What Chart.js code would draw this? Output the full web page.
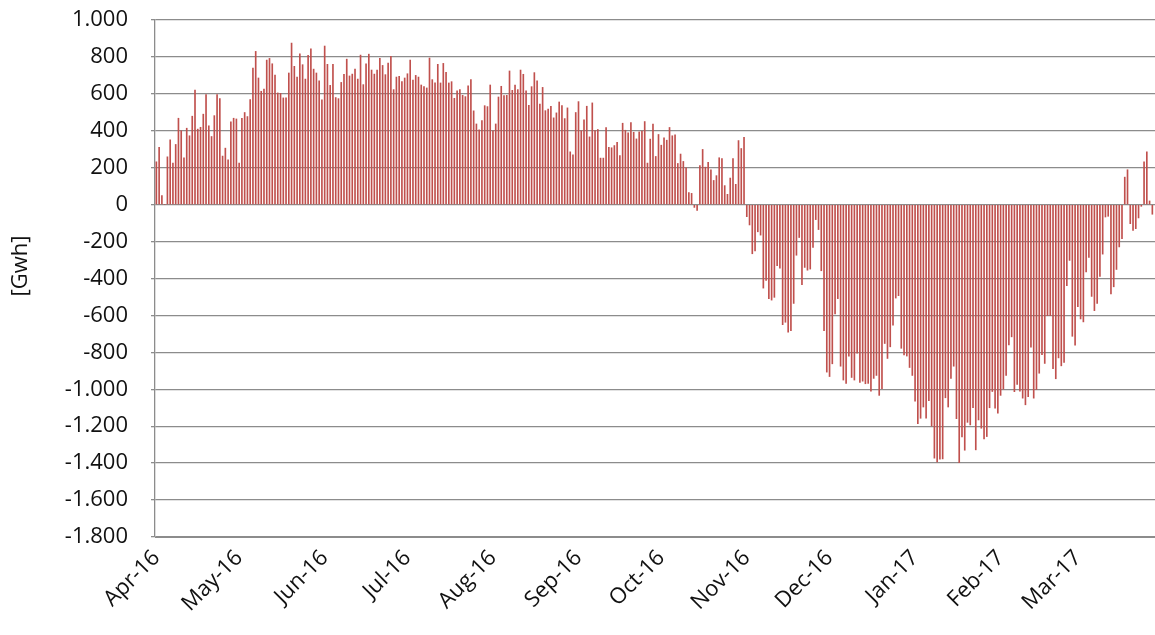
<!DOCTYPE html>
<html>
<head>
<meta charset="utf-8">
<script src="https://cdn.jsdelivr.net/npm/chart.js@4.4.1/dist/chart.umd.min.js"></script>
<style>
  html, body { margin: 0; padding: 0; background: #fff; overflow: hidden; }
  #wrap { width: 1165px; height: 635px; }
</style>
</head>
<body>
<div id="wrap"><canvas id="chart" width="1165" height="635"></canvas></div>
<script>
// daily balance in GWh, one array per month (Apr-16 .. Mar-17)
const apr16 = [232, 311, 49, 0, 259, 351, 225, 326, 468, 400, 254, 414, 373, 479, 621, 409, 419, 490, 596, 427, 369, 482, 596, 574, 263, 306, 243, 448, 468, 464];
const may16 = [225, 468, 499, 477, 569, 740, 830, 686, 614, 626, 783, 792, 763, 702, 605, 603, 578, 578, 713, 875, 749, 691, 817, 758, 680, 808, 844, 734, 713, 671, 567];
const jun16 = [859, 760, 646, 760, 580, 574, 662, 706, 788, 697, 707, 734, 680, 810, 650, 763, 815, 729, 707, 729, 792, 754, 704, 767, 803, 623, 691, 695, 666, 686];
const jul16 = [709, 783, 675, 700, 691, 648, 640, 632, 794, 677, 660, 760, 659, 765, 716, 659, 666, 576, 616, 623, 592, 585, 643, 677, 508, 437, 405, 455, 536, 531, 648];
const aug16 = [400, 437, 583, 641, 590, 592, 724, 619, 648, 623, 729, 706, 616, 538, 639, 715, 670, 544, 635, 509, 517, 533, 470, 497, 556, 536, 466, 524, 286, 270, 499];
const sep16 = [558, 400, 459, 533, 367, 551, 401, 407, 252, 252, 418, 311, 308, 320, 337, 266, 441, 403, 389, 445, 392, 356, 394, 398, 450, 225, 355, 436, 261, 380];
const oct16 = [322, 362, 349, 418, 373, 378, 223, 274, 234, 200, 65, 61, -15, -31, 211, 299, 203, 229, 189, 131, 157, 254, 250, 103, 56, 144, 250, 110, 347, 304, 364];
const nov16 = [-65, -110, -266, -250, -147, -165, -452, -410, -509, -517, -502, -331, -344, -650, -637, -691, -682, -535, -274, -178, -434, -340, -355, -349, -232, -81, -135, -358, -682, -907];
const dec16 = [-931, -862, -592, -509, -875, -950, -968, -821, -936, -950, -805, -963, -956, -970, -968, -1010, -941, -925, -1033, -997, -752, -833, -770, -653, -506, -493, -778, -814, -820, -882, -925];
const jan17 = [-1064, -1186, -1157, -1096, -1156, -1062, -1199, -1373, -1393, -1379, -1377, -1046, -1096, -941, -875, -1159, -1397, -1258, -1330, -1179, -1193, -1100, -1328, -1166, -1211, -1269, -1256, -1100, -1012, -1102, -1130];
const feb17 = [-1033, -999, -925, -760, -716, -1013, -974, -1010, -1048, -1084, -1040, -772, -1048, -1001, -913, -812, -860, -601, -601, -889, -943, -830, -873, -855, -439, -302, -713, -761];
const mar17 = [-553, -619, -635, -364, -286, -497, -574, -535, -389, -268, -67, -63, -484, -445, -351, -229, -184, 149, 189, -103, -139, -130, -72, -9, 232, 286, 20, -52, null, null, null];

const monthLabels = ['Apr-16', 'May-16', 'Jun-16', 'Jul-16', 'Aug-16', 'Sep-16', 'Oct-16', 'Nov-16', 'Dec-16', 'Jan-17', 'Feb-17', 'Mar-17'];
const yTicks = [1000, 800, 600, 400, 200, 0, -200, -400, -600, -800, -1000, -1200, -1400, -1600, -1800];

const months = [apr16, may16, jun16, jul16, aug16, sep16, oct16, nov16, dec16, jan17, feb17, mar17];

// one category per day, month label on the 1st
const labels = [];
const values = [];
months.forEach(function (m, mi) {
    m.forEach(function (v, d) {
        labels.push(d === 0 ? monthLabels[mi] : '');
        values.push(v);
    });
});

function fmt(v) {
    const s = Math.abs(v).toString().replace(/\B(?=(\d{3})+(?!\d))/g, '.');
    return (v < 0 ? '-' : '') + s;
}

const font = { family: 'Open Sans', size: 22 };
const gridColor = '#8c8c8c';

// y title drawn by hand so it can sit where the original has it
const yTitle = {
    id: 'yTitle',
    afterDraw: function (chart) {
        const ctx = chart.ctx;
        ctx.save();
        ctx.translate(21, 266);
        ctx.rotate(-Math.PI / 2);
        ctx.font = '22px "Open Sans"';
        ctx.fillStyle = '#111';
        ctx.textAlign = 'center';
        ctx.textBaseline = 'middle';
        ctx.fillText('[Gwh]', 0, 0);
        ctx.restore();
    }
};

new Chart(document.getElementById('chart'), {
    type: 'bar',
    data: {
        labels: labels,
        datasets: [{
            data: values,
            backgroundColor: '#C0504D',
            borderWidth: 0,
            barThickness: 1
        }]
    },
    options: {
        responsive: false,
        animation: false,
        layout: { padding: { top: 20, right: 3, left: 0, bottom: 0 } },
        plugins: { legend: { display: false }, tooltip: { enabled: false } },
        scales: {
            x: {
                grid: { display: false, drawTicks: false },
                border: { display: true, color: gridColor, width: 1 },
                ticks: {
                    autoSkip: false,
                    minRotation: 45,
                    maxRotation: 45,
                    padding: 8,
                    color: '#111',
                    font: font,
                    callback: function (val, i) { return labels[i]; }
                },
                afterFit: function (scale) {
                    scale.height = 98;
                    scale.paddingLeft = 0;
                    scale.paddingRight = 0;
                }
            },
            y: {
                min: -1800,
                max: 1000,
                afterBuildTicks: function (scale) {
                    scale.ticks = yTicks.map(function (v) { return { value: v }; });
                },
                grid: { color: gridColor, lineWidth: 1.3, tickLength: 4 },
                border: { display: true, color: gridColor, width: 1.3 },
                ticks: {
                    padding: 23,
                    color: '#111',
                    font: font,
                    callback: function (v) { return fmt(v); }
                },
                afterFit: function (scale) {
                    scale.width = 155;
                    scale.paddingTop = 0;
                    scale.paddingBottom = 0;
                }
            }
        }
    },
    plugins: [yTitle]
});
</script>
</body>
</html>
